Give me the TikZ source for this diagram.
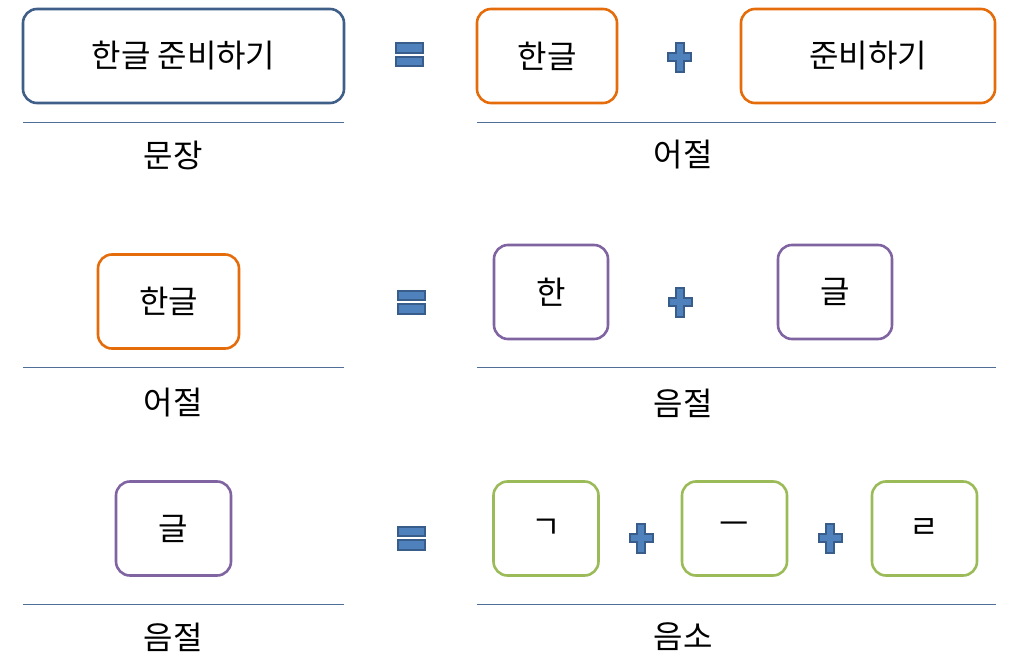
\documentclass[tikz,border=0pt]{standalone}
\usepackage{fontspec}
\newfontfamily\kr{Noto Sans CJK KR}
\definecolor{navyc}{HTML}{3F5E88}
\definecolor{orangec}{HTML}{E46C0A}
\definecolor{purplec}{HTML}{8064A2}
\definecolor{greenc}{HTML}{9BBB59}
\definecolor{linec}{HTML}{4F6F99}
\definecolor{symfill}{HTML}{4F81BD}
\definecolor{symdraw}{HTML}{385D8A}
\tikzset{
  box/.style={draw, rounded corners=14pt, line width=2.6pt, minimum height=94pt, inner sep=0pt, font=\kr\fontsize{32}{36}\selectfont},
  sentbox/.style={box, draw=navyc},
  wordbox/.style={box, draw=orangec},
  sylbox/.style={box, draw=purplec},
  phonbox/.style={box, draw=greenc},
  rule/.style={draw=linec, line width=1pt},
  lbl/.style={font=\kr\fontsize{32}{36}\selectfont, inner sep=0pt},
  sym/.style={fill=symfill, draw=symdraw, line width=2pt},
  eqsign/.pic={
    \path[sym] (-13.5,-11.5) rectangle (13.5,-2);
    \path[sym] (-13.5,2) rectangle (13.5,11.5);
  },
  plussign/.pic={
    \path[sym] (-4,-14.5) -- (4,-14.5) -- (4,-4) -- (11.5,-4) -- (11.5,4) -- (4,4) -- (4,14.5) -- (-4,14.5) -- (-4,4) -- (-11.5,4) -- (-11.5,-4) -- (-4,-4) -- cycle;
  }
}
\begin{document}
\begin{tikzpicture}[x=1pt,y=-1pt]
\useasboundingbox (0,0) rectangle (1023,661);
% row 1
\node[sentbox, minimum width=321pt] (s1) at (183.5,56) {한글 준비하기};
\pic (eq1) at (409,55) {eqsign};
\node[wordbox, minimum width=140pt] (w1) at (547,56) {한글};
\pic (pl1) at (679.5,57.5) {plussign};
\node[wordbox, minimum width=254pt] (w2) at (868,56) {준비하기};
\coordinate (l1a) at (23,122); \coordinate (l1b) at (344,122);
\coordinate (r1a) at (477,122); \coordinate (r1b) at (996,122);
\draw[rule] (l1a) -- (l1b);
\draw[rule] (r1a) -- (r1b);
\node[lbl] (t1a) at (173,155) {문장};
\node[lbl] (t1b) at (683,155) {어절};
% row 2
\node[wordbox, minimum width=141pt] (w3) at (168.5,301.5) {한글};
\pic (eq2) at (411,302) {eqsign};
\node[sylbox, minimum width=114pt] (y1) at (551,292) {한};
\pic (pl2) at (680,302) {plussign};
\node[sylbox, minimum width=114pt] (y2) at (835,292) {글};
\coordinate (l2a) at (23,367); \coordinate (l2b) at (344,367);
\coordinate (r2a) at (477,367); \coordinate (r2b) at (996,367);
\draw[rule] (l2a) -- (l2b);
\draw[rule] (r2a) -- (r2b);
\node[lbl] (t2a) at (173,403) {어절};
\node[lbl] (t2b) at (683,403) {음절};
% row 3
\node[sylbox, minimum width=115pt] (y3) at (173.5,528.5) {글};
\pic (eq3) at (411,538) {eqsign};
\node[phonbox, minimum width=105pt] (p1) at (546,528.5) {ㄱ};
\pic (pl3) at (641,538) {plussign};
\node[phonbox, minimum width=105pt] (p2) at (734.5,528.5) {ㅡ};
\pic (pl4) at (830,538) {plussign};
\node[phonbox, minimum width=105pt] (p3) at (924.5,528.5) {ㄹ};
\coordinate (l3a) at (23,604); \coordinate (l3b) at (344,604);
\coordinate (r3a) at (477,604); \coordinate (r3b) at (996,604);
\draw[rule] (l3a) -- (l3b);
\draw[rule] (r3a) -- (r3b);
\node[lbl] (t3a) at (173,637) {음절};
\node[lbl] (t3b) at (683,637) {음소};
\end{tikzpicture}
\end{document}
